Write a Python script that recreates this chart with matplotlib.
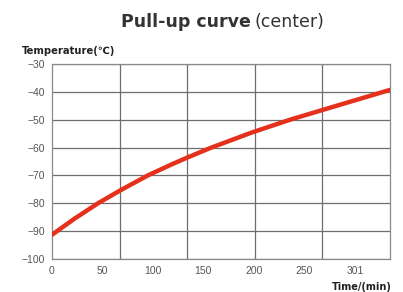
import numpy as np
import matplotlib
matplotlib.use("Agg")
import matplotlib.pyplot as plt

# curve
time_min = [0, 22, 45.6, 68, 95, 117, 134, 158, 198, 236, 283, 335]
temp_c = [-91.3, -85.6, -80.0, -75.3, -70.0, -66.3, -63.6, -60.0, -54.6, -50.0, -44.9, -39.3]

x_ticks = [0, 50, 100, 150, 200, 250, 301]
y_ticks = [-30, -40, -50, -60, -70, -80, -90, -100]
x_max = 335

fig = plt.figure(figsize=(4.03, 2.92), dpi=100)
ax = fig.add_axes([0.129, 0.113, 0.839, 0.668])

ax.plot(time_min, temp_c, color="#e5311c", lw=3.2, solid_capstyle="round",
        solid_joinstyle="round", zorder=3)

ax.set_xlim(0, x_max)
ax.set_ylim(-100, -30)
ax.set_xticks(x_ticks)
ax.set_xticklabels([str(v) for v in x_ticks])
ax.set_yticks(y_ticks)
ax.set_yticklabels([str(v).replace("-", "\u2212") for v in y_ticks])
ax.tick_params(length=0, pad=5, labelsize=7.5, labelcolor="#555555")
for lab in ax.get_xticklabels() + ax.get_yticklabels():
    lab.set_family("Liberation Sans")

# grid: horizontal at ticks, vertical in 5 equal columns
for y in y_ticks:
    ax.axhline(y, color="#6e6e6e", lw=0.9, zorder=1)
for x in np.linspace(0, x_max, 6)[1:-1]:
    ax.axvline(x, color="#6e6e6e", lw=0.9, zorder=1)
for s in ax.spines.values():
    s.set_color("#8a8a8a")
    s.set_linewidth(0.9)

fig.text(0.622, 0.925, "Pull-up curve", ha="right", va="center", fontsize=12.5,
         fontweight="bold", family="DejaVu Sans", color="#333333")
fig.text(0.632, 0.925, "(center)", ha="left", va="center", fontsize=12.5,
         family="DejaVu Sans", color="#333333")
fig.text(0.054, 0.824, "Temperature(\u2103)", ha="left", va="center", fontsize=7.2,
         fontweight="bold", family="DejaVu Sans", color="#222222")
fig.text(0.973, 0.017, "Time/(min)", ha="right", va="center", fontsize=7,
         fontweight="bold", family="Liberation Sans Narrow", color="#222222")

fig.savefig("out.png", dpi=100)
